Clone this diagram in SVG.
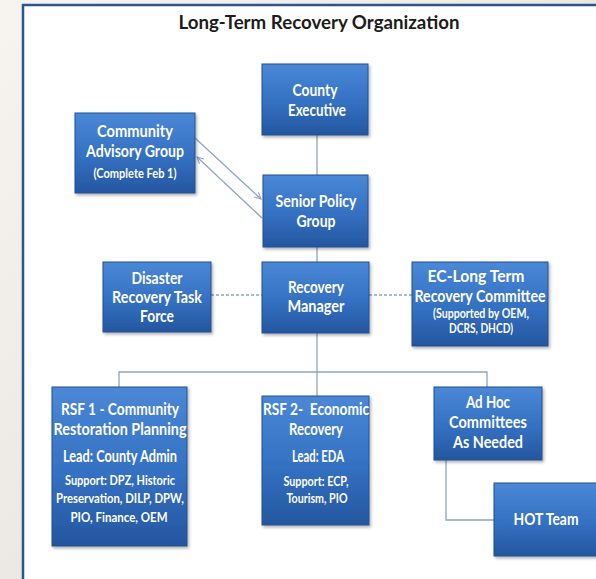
<svg xmlns="http://www.w3.org/2000/svg" width="596" height="579" viewBox="0 0 596 579">
<defs>
<linearGradient id="bg" x1="0" y1="0" x2="0" y2="1">
<stop offset="0" stop-color="#4a88d6"/>
<stop offset="0.55" stop-color="#3470c2"/>
<stop offset="1" stop-color="#24569f"/>
</linearGradient>
<linearGradient id="marble" x1="0" y1="0" x2="1" y2="1">
<stop offset="0" stop-color="#f7f4ef"/>
<stop offset="0.5" stop-color="#ece8e2"/>
<stop offset="1" stop-color="#f4f1ec"/>
</linearGradient>
<filter id="sh" x="-10%" y="-10%" width="125%" height="125%">
<feDropShadow dx="1.5" dy="2" stdDeviation="1.5" flood-color="#000" flood-opacity="0.3"/>
</filter>
<marker id="ah" viewBox="0 0 10 10" refX="9" refY="5" markerWidth="8" markerHeight="8" orient="auto-start-reverse" markerUnits="userSpaceOnUse">
<path d="M1,1 L9,5 L1,9" fill="none" stroke="#8fa3c8" stroke-width="1.3"/>
</marker>
</defs>
<style>
.box{fill:url(#bg);stroke:#20508f;stroke-width:1;filter:url(#sh)}
.t{font-family:Lato,"Open Sans","DejaVu Sans",sans-serif;font-weight:700;fill:#ffffff;text-anchor:middle;font-size:17px}
.s{font-size:13px}
.c{fill:none;stroke:#8fa3c8;stroke-width:1.3}
.d{stroke-dasharray:3,2}
.title{font-family:Lato,"Open Sans","DejaVu Sans",sans-serif;font-weight:700;fill:#1c1c1c;text-anchor:middle;font-size:18px}
</style>
<rect x="0" y="0" width="596" height="579" fill="url(#marble)"/>
<rect x="23" y="5" width="600" height="600" fill="#ffffff" stroke="#2a5590" stroke-width="2.5"/>
<text class="title" x="319" y="29" textLength="281" lengthAdjust="spacingAndGlyphs">Long-Term Recovery Organization</text>

<g id="connectors">
<line class="c" x1="317" y1="135" x2="317" y2="175"/>
<line class="c" x1="317" y1="247" x2="317" y2="262"/>
<line class="c d" x1="211" y1="295" x2="262" y2="295"/>
<line class="c d" x1="369" y1="295" x2="412" y2="295"/>
<line class="c" x1="317" y1="333" x2="317" y2="396"/>
<polyline class="c" points="119,387 119,372 487,372 487,387"/>
<polyline class="c" points="446,460 446,520 494,520"/>
<line class="c" x1="195" y1="138" x2="261" y2="199" marker-end="url(#ah)"/>
<line class="c" x1="262" y1="218" x2="197" y2="157" marker-end="url(#ah)"/>
</g>

<g id="county-executive">
<rect class="box" x="262" y="64" width="106" height="71"/>
<text class="t" x="315" y="96" textLength="45" lengthAdjust="spacingAndGlyphs">County</text>
<text class="t" x="317" y="116" textLength="58" lengthAdjust="spacingAndGlyphs">Executive</text>
</g>

<g id="community-advisory-group">
<rect class="box" x="75" y="113" width="120" height="80"/>
<text class="t" x="135" y="137" textLength="76" lengthAdjust="spacingAndGlyphs">Community</text>
<text class="t" x="135" y="157" textLength="98" lengthAdjust="spacingAndGlyphs">Advisory Group</text>
<text class="t s" x="135" y="178" textLength="83" lengthAdjust="spacingAndGlyphs">(Complete Feb 1)</text>
</g>

<g id="senior-policy-group">
<rect class="box" x="263" y="175" width="105" height="72"/>
<text class="t" x="316" y="207" textLength="81" lengthAdjust="spacingAndGlyphs">Senior Policy</text>
<text class="t" x="316" y="227" textLength="39" lengthAdjust="spacingAndGlyphs">Group</text>
</g>

<g id="disaster-recovery-task-force">
<rect class="box" x="103" y="262" width="108" height="70"/>
<text class="t" x="157" y="284" textLength="51" lengthAdjust="spacingAndGlyphs">Disaster</text>
<text class="t" x="157" y="303" textLength="90" lengthAdjust="spacingAndGlyphs">Recovery Task</text>
<text class="t" x="157" y="322" textLength="34" lengthAdjust="spacingAndGlyphs">Force</text>
</g>

<g id="recovery-manager">
<rect class="box" x="262" y="262" width="107" height="71"/>
<text class="t" x="316" y="293" textLength="56" lengthAdjust="spacingAndGlyphs">Recovery</text>
<text class="t" x="316" y="312" textLength="57" lengthAdjust="spacingAndGlyphs">Manager</text>
</g>

<g id="ec-long-term-recovery-committee">
<rect class="box" x="412" y="262" width="136" height="84"/>
<text class="t" x="476" y="282" textLength="97" lengthAdjust="spacingAndGlyphs">EC-Long Term</text>
<text class="t" x="480" y="302" textLength="131" lengthAdjust="spacingAndGlyphs">Recovery Committee</text>
<text class="t s" x="481" y="318" textLength="96" lengthAdjust="spacingAndGlyphs">(Supported by OEM,</text>
<text class="t s" x="481" y="333" textLength="64" lengthAdjust="spacingAndGlyphs">DCRS, DHCD)</text>
</g>

<g id="rsf1">
<rect class="box" x="52" y="387" width="135" height="159"/>
<text class="t" x="120" y="415" textLength="118" lengthAdjust="spacingAndGlyphs">RSF 1 - Community</text>
<text class="t" x="120" y="435" textLength="133" lengthAdjust="spacingAndGlyphs">Restoration Planning</text>
<text class="t" x="120" y="462" textLength="114" lengthAdjust="spacingAndGlyphs">Lead: County Admin</text>
<text class="t s" x="120" y="485" textLength="110" lengthAdjust="spacingAndGlyphs">Support: DPZ, Historic</text>
<text class="t s" x="120" y="503" textLength="128" lengthAdjust="spacingAndGlyphs">Preservation, DILP, DPW,</text>
<text class="t s" x="119" y="522" textLength="97" lengthAdjust="spacingAndGlyphs">PIO, Finance, OEM</text>
</g>

<g id="rsf2">
<rect class="box" x="262" y="396" width="107" height="129"/>
<text class="t" x="316" y="415" textLength="106" lengthAdjust="spacingAndGlyphs" xml:space="preserve">RSF 2-  Economic</text>
<text class="t" x="316" y="435" textLength="54" lengthAdjust="spacingAndGlyphs">Recovery</text>
<text class="t" x="318" y="462" textLength="52" lengthAdjust="spacingAndGlyphs">Lead: EDA</text>
<text class="t s" x="316" y="486" textLength="65" lengthAdjust="spacingAndGlyphs">Support: ECP,</text>
<text class="t s" x="317" y="503" textLength="61" lengthAdjust="spacingAndGlyphs">Tourism, PIO</text>
</g>

<g id="ad-hoc-committees">
<rect class="box" x="434" y="387" width="108" height="73"/>
<text class="t" x="488" y="408" textLength="44" lengthAdjust="spacingAndGlyphs">Ad Hoc</text>
<text class="t" x="488" y="428" textLength="78" lengthAdjust="spacingAndGlyphs">Committees</text>
<text class="t" x="488" y="448" textLength="70" lengthAdjust="spacingAndGlyphs">As Needed</text>
</g>

<g id="hot-team">
<rect class="box" x="494" y="483" width="110" height="73"/>
<text class="t" x="546" y="525" textLength="65" lengthAdjust="spacingAndGlyphs">HOT Team</text>
</g>
</svg>
